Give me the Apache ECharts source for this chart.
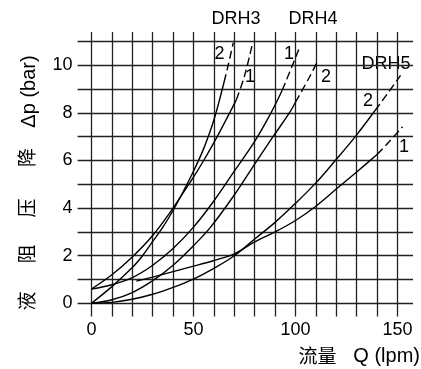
<!DOCTYPE html>
<html><head><meta charset="utf-8">
<script src="https://cdn.jsdelivr.net/npm/echarts@6/dist/echarts.min.js"></script>
<style>html,body{margin:0;padding:0;background:#fff}#c{width:421px;height:369px}</style>
</head><body><div id="c"></div>
<script>
// ---- tick labels / grid ----
const xLabelTicks = [0, 50, 100, 150];
const yLabelTicks = [0, 2, 4, 6, 8, 10];
const xGridLines = [0,10,20,30,40,50,60,70,80,90,100,110,120,130,140,150];
const yGridLines = [0,1,2,3,4,5,6,7,8,9,10,11];
const xExtent = [-6.8, 157.6];
const yExtent = [-0.55, 11.4];

// ---- curves: [Q (lpm), Δp (bar)] ----
const drh3_1 = [[0,0.6],[10,1.2],[20,1.95],[30,2.85],[40,4.0],[45,4.65],[50,5.3],[55,6.0],[60,6.75],[65,7.55],[71,8.55]];
const drh3_1_dash = [[71,8.55],[75,9.55],[79,10.95]];
const drh3_2 = [[0,0],[10,0.7],[20,1.5],[25,2.0],[30,2.6],[35,3.2],[40,3.9],[45,4.7],[50,5.55],[55,6.5],[60,7.7],[65,9.3]];
const drh3_2_dash = [[65,9.3],[67,10.0],[69.5,10.95]];
const drh4_1 = [[0,0.6],[10,0.78],[20,1.08],[30,1.6],[40,2.3],[50,3.2],[60,4.3],[70,5.55],[80,6.8],[88,8.0],[93.5,8.95]];
const drh4_1_dash = [[93.5,8.95],[98.5,10.0],[102,10.75]];
const drh4_2 = [[0,0],[10,0.15],[20,0.45],[30,0.95],[40,1.6],[50,2.42],[58.4,3.2],[70,4.55],[80,5.85],[89,7.0],[97,8.0],[100,8.45]];
const drh4_2_dash = [[100,8.45],[106.8,9.5],[111,10.2]];
const drh5_1 = [[22,0.93],[30,1.1],[40,1.33],[50,1.56],[60,1.8],[70,2.08],[80,2.58],[90,3.0],[100,3.48],[110,4.08],[120,4.8],[130,5.52],[140,6.25]];
const drh5_1_dash = [[140,6.25],[146,6.8],[152.5,7.42]];
const drh5_2 = [[0,0],[10,0.04],[20,0.17],[30,0.38],[40,0.67],[50,1.02],[60,1.47],[70,2.0],[80,2.7],[90,3.4],[100,4.2],[110,5.06],[120,6.05],[130,7.08],[139,8.1]];
const drh5_2_dash = [[139,8.1],[145,8.8],[151.5,9.58]];

const FONT = '"Liberation Sans", Arial, sans-serif';
const CJK = '"Noto Sans CJK SC", sans-serif';

const gridSegs = [];
xGridLines.forEach(q => gridSegs.push({coords: [[q, yExtent[0]], [q, yExtent[1]]]}));
yGridLines.forEach(p => gridSegs.push({coords: [[xExtent[0], p], [xExtent[1], p]]}));

function curve(data, dashed) {
  return {
    type: 'line', data: data, smooth: 0.35, symbol: 'none', silent: true,
    lineStyle: {color: '#000', width: 1.4, type: dashed ? [8, 4] : 'solid'},
    z: 5
  };
}

const chart = echarts.init(document.getElementById('c'), null, {renderer: 'canvas'});
chart.setOption({
  animation: false,
  backgroundColor: '#fff',
  grid: {left: 77.6, right: 8, top: 32, bottom: 52.6},
  xAxis: {
    type: 'value', min: xExtent[0], max: xExtent[1],
    axisLine: {show: false}, axisTick: {show: false}, splitLine: {show: false},
    axisLabel: {customValues: xLabelTicks, color: '#000', fontSize: 18, fontFamily: FONT, margin: 5}
  },
  yAxis: {
    type: 'value', min: yExtent[0], max: yExtent[1],
    axisLine: {show: false}, axisTick: {show: false}, splitLine: {show: false},
    axisLabel: {customValues: yLabelTicks, color: '#000', fontSize: 18, fontFamily: FONT, margin: 5}
  },
  series: [
    {type: 'lines', coordinateSystem: 'cartesian2d', data: gridSegs, silent: true,
     lineStyle: {color: '#222', width: 1.3, opacity: 1}, z: 1},
    curve(drh3_1), curve(drh3_1_dash, true),
    curve(drh3_2), curve(drh3_2_dash, true),
    curve(drh4_1), curve(drh4_1_dash, true),
    curve(drh4_2), curve(drh4_2_dash, true),
    curve(drh5_1), curve(drh5_1_dash, true),
    curve(drh5_2), curve(drh5_2_dash, true)
  ],
  graphic: [
    {type: 'text', x: 236, y: 19, style: {text: 'DRH3', font: '18px ' + FONT, fill: '#000', align: 'center', verticalAlign: 'middle'}},
    {type: 'text', x: 313, y: 19, style: {text: 'DRH4', font: '18px ' + FONT, fill: '#000', align: 'center', verticalAlign: 'middle'}},
    {type: 'text', x: 386, y: 64, style: {text: 'DRH5', font: '18px ' + FONT, fill: '#000', align: 'center', verticalAlign: 'middle', backgroundColor: '#fff', padding: [0, 1]}},
    {type: 'text', x: 219.5, y: 54, style: {text: '2', font: '18px ' + FONT, fill: '#000', align: 'center', verticalAlign: 'middle'}},
    {type: 'text', x: 250, y: 77, style: {text: '1', font: '18px ' + FONT, fill: '#000', align: 'center', verticalAlign: 'middle'}},
    {type: 'text', x: 289, y: 54, style: {text: '1', font: '18px ' + FONT, fill: '#000', align: 'center', verticalAlign: 'middle'}},
    {type: 'text', x: 326, y: 77, style: {text: '2', font: '18px ' + FONT, fill: '#000', align: 'center', verticalAlign: 'middle'}},
    {type: 'text', x: 368, y: 101, style: {text: '2', font: '18px ' + FONT, fill: '#000', align: 'center', verticalAlign: 'middle'}},
    {type: 'text', x: 404, y: 147, style: {text: '1', font: '18px ' + FONT, fill: '#000', align: 'center', verticalAlign: 'middle'}},
    // y axis name (rotated)
    {type: 'text', x: 29, y: 91.5, rotation: Math.PI / 2, style: {text: 'Δp (bar)', font: '20px ' + FONT, fill: '#000', align: 'center', verticalAlign: 'middle'}},
    {type: 'text', x: 27, y: 157.5, rotation: Math.PI / 2, style: {text: '降', font: '19px ' + CJK, fill: '#000', align: 'center', verticalAlign: 'middle'}},
    {type: 'text', x: 27, y: 208, rotation: Math.PI / 2, style: {text: '压', font: '19px ' + CJK, fill: '#000', align: 'center', verticalAlign: 'middle'}},
    {type: 'text', x: 27, y: 254, rotation: Math.PI / 2, style: {text: '阻', font: '19px ' + CJK, fill: '#000', align: 'center', verticalAlign: 'middle'}},
    {type: 'text', x: 27, y: 301, rotation: Math.PI / 2, style: {text: '液', font: '19px ' + CJK, fill: '#000', align: 'center', verticalAlign: 'middle'}},
    // x axis name
    {type: 'text', x: 317.5, y: 356, style: {text: '流量', font: '19px ' + CJK, fill: '#000', align: 'center', verticalAlign: 'middle'}},
    {type: 'text', x: 420, y: 356, style: {text: 'Q (lpm)', font: '20px ' + FONT, fill: '#000', align: 'right', verticalAlign: 'middle'}}
  ]
});
</script>
</body></html>
